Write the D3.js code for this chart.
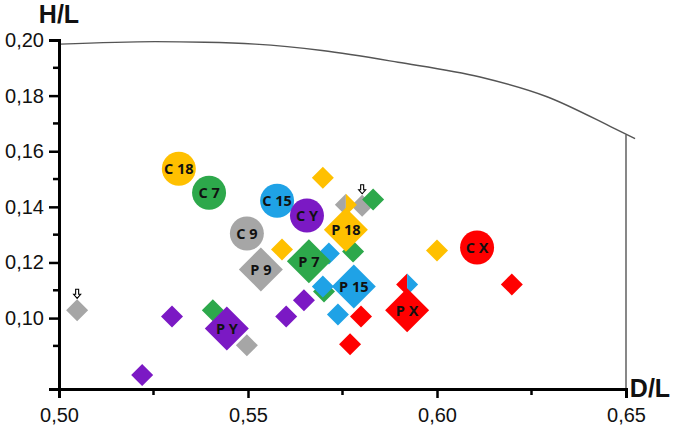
<!DOCTYPE html>
<html>
<head>
<meta charset="utf-8">
<script src="https://cdn.jsdelivr.net/npm/d3@7"></script>
<style>
  body { margin: 0; background: #fff; }
  svg { display: block; font-family: "Liberation Sans", Arial, sans-serif; }
  .tick-label { font-size: 20px; fill: #111; }
  .axis-title { font-size: 25px; font-weight: bold; fill: #111; }
  .mark-label { font-family: "Open Sans", sans-serif; font-size: 14.5px; font-weight: bold; fill: #111; }
</style>
</head>
<body>
<div id="chart"></div>
<script>
// 1: DATA
const colors = {
  yellow: "#FFC000", green: "#2DA84B", blue: "#1FA2E6",
  purple: "#7B19C4", gray: "#A6A6A6", red: "#FF0000"
};

// small diamonds [D/L, H/L, colour]
const smallPoints = [
  [0.5698, 0.1505, "yellow"], [0.5590, 0.1247, "yellow"], [0.6000, 0.1243, "yellow"],
  [0.5802, 0.1404, "gray"], [0.5048, 0.1028, "gray"], [0.5497, 0.0902, "gray"],
  [0.5831, 0.1426, "green"], [0.5778, 0.1239, "green"], [0.5407, 0.1028, "green"], [0.5701, 0.1096, "green"],
  [0.5714, 0.1232, "blue"], [0.5698, 0.1114, "blue"], [0.5738, 0.1013, "blue"],
  [0.5799, 0.1006, "red"], [0.5770, 0.0906, "red"], [0.6198, 0.1121, "red"],
  [0.5648, 0.1064, "purple"], [0.5601, 0.1006, "purple"], [0.5299, 0.1006, "purple"], [0.5220, 0.0795, "purple"]
];

// two-coloured small diamonds [D/L, H/L, left colour, right colour]
const splitPoints = [
  [0.5759, 0.1408, "gray", "yellow"],
  [0.5921, 0.1121, "red", "blue"]
];

// points flagged with a small arrow
const arrowPoints = [[0.5802, 0.1404], [0.5048, 0.1028]];

// large labelled diamonds (P) and circles (C)
const pLabels = ["P 18", "P 9", "P 7", "P 15", "P X", "P Y"];
const pX = [0.5759, 0.5534, 0.5661, 0.5780, 0.5921, 0.5444];
const pY = [0.1318, 0.1175, 0.1204, 0.1114, 0.1028, 0.0963];
const pColor = ["yellow", "gray", "green", "blue", "red", "purple"];

const cLabels = ["C 18", "C 7", "C 15", "C 9", "C Y", "C X"];
const cX = [0.5317, 0.5397, 0.5577, 0.5497, 0.5656, 0.6106];
const cY = [0.1537, 0.1451, 0.1422, 0.1304, 0.1369, 0.1254];
const cColor = ["yellow", "green", "blue", "gray", "purple", "red"];

// boundary curve
const curveX = [0.5003, 0.5254, 0.5386, 0.5519, 0.5696, 0.5897, 0.6114, 0.6291, 0.6466, 0.6524];
const curveY = [0.1985, 0.1994, 0.1992, 0.1985, 0.1962, 0.1920, 0.1867, 0.1796, 0.1684, 0.1645];
const boundX = 0.65, boundTop = 0.1660;

const xTicks = [0.50, 0.55, 0.60, 0.65];
const xMinor = [0.525, 0.575, 0.625];
const yTicks = [0.10, 0.12, 0.14, 0.16, 0.18, 0.20];
const yMinor = [0.09, 0.11, 0.13, 0.15, 0.17, 0.19];

// 2: SVG + SCALES
const W = 675, H = 426;
const svg = d3.select("#chart").append("svg").attr("width", W).attr("height", H);

const x = d3.scaleLinear().domain([0.50, 0.65]).range([59, 626]);
const y = d3.scaleLinear().domain([0.0745, 0.20]).range([389, 40]);
const fmt = v => d3.format(".2f")(v).replace(".", ",");

// 3: CURVE + RIGHT BOUNDARY
const curve = d3.line().x(d => x(d[0])).y(d => y(d[1])).curve(d3.curveMonotoneX);
svg.append("path")
  .attr("d", curve(d3.zip(curveX, curveY)))
  .attr("fill", "none").attr("stroke", "#555").attr("stroke-width", 1.4);
svg.append("line")
  .attr("x1", x(boundX)).attr("x2", x(boundX))
  .attr("y1", y(boundTop)).attr("y2", y.range()[0])
  .attr("stroke", "#555").attr("stroke-width", 1.4);

// 4: AXES
const axisG = svg.append("g");
const xAxis = axisG.append("g").attr("transform", `translate(0,${y.range()[0]})`)
  .call(d3.axisBottom(x).tickValues(xTicks).tickSize(9).tickFormat(fmt));
const yAxis = axisG.append("g").attr("transform", `translate(${x.range()[0]},0)`)
  .call(d3.axisLeft(y).tickValues(yTicks).tickSize(10).tickFormat(fmt));

[xAxis, yAxis].forEach(g => {
  g.attr("font-size", null).attr("font-family", null);
  g.select(".domain").attr("stroke", "#000").attr("stroke-width", 3);
  g.selectAll(".tick line").attr("stroke", "#000").attr("stroke-width", 2.5);
  g.selectAll(".tick text").attr("class", "tick-label");
});
xAxis.selectAll(".tick text").attr("dy", null).attr("y", 33);
yAxis.selectAll(".tick text").attr("x", -15);

xAxis.selectAll(".minor").data(xMinor).enter().append("line")
  .attr("x1", d => x(d)).attr("x2", d => x(d)).attr("y1", 0).attr("y2", 6)
  .attr("stroke", "#000").attr("stroke-width", 2.5);
yAxis.selectAll(".minor").data(yMinor).enter().append("line")
  .attr("y1", d => y(d)).attr("y2", d => y(d)).attr("x1", 0).attr("x2", -6)
  .attr("stroke", "#000").attr("stroke-width", 2.5);

svg.append("text").attr("class", "axis-title")
  .attr("x", x.range()[0]).attr("y", 23).attr("text-anchor", "middle").text("H/L");
svg.append("text").attr("class", "axis-title")
  .attr("x", 650).attr("y", 397).attr("text-anchor", "middle").text("D/L");

// 5: MARKS
const smallSym = d3.symbol().type(d3.symbolSquare).size(242);
const bigSym = d3.symbol().type(d3.symbolSquare).size(968);

svg.append("g").selectAll("path").data(smallPoints).enter().append("path")
  .attr("d", smallSym())
  .attr("transform", d => `translate(${x(d[0])},${y(d[1])}) rotate(45)`)
  .attr("fill", d => colors[d[2]]);

// half diamonds for the two-coloured points
const hd = 11;
const split = svg.append("g").selectAll("g").data(splitPoints).enter().append("g")
  .attr("transform", d => `translate(${x(d[0])},${y(d[1])})`);
split.append("path").attr("d", `M0,${-hd}L${-hd},0L0,${hd}Z`).attr("fill", d => colors[d[2]]);
split.append("path").attr("d", `M0,${-hd}L${hd},0L0,${hd}Z`).attr("fill", d => colors[d[3]]);

// small outlined down arrows above flagged points
svg.append("g").selectAll("path").data(arrowPoints).enter().append("path")
  .attr("transform", d => `translate(${x(d[0])},${y(d[1]) - 16})`)
  .attr("d", "M-1.5,-5L1.5,-5L1.5,0L3.5,0L0,4L-3.5,0L-1.5,0Z")
  .attr("fill", "#fff").attr("stroke", "#000").attr("stroke-width", 1.1);

const pData = d3.range(pLabels.length).map(i => ({ label: pLabels[i], x: pX[i], y: pY[i], c: pColor[i] }));
const pG = svg.append("g").selectAll("g").data(pData).enter().append("g")
  .attr("transform", d => `translate(${x(d.x)},${y(d.y)})`);
pG.append("path").attr("d", bigSym()).attr("transform", "rotate(45)").attr("fill", d => colors[d.c]);
pG.append("text").attr("class", "mark-label").attr("text-anchor", "middle").attr("dy", "0.36em").text(d => d.label);

const cData = d3.range(cLabels.length).map(i => ({ label: cLabels[i], x: cX[i], y: cY[i], c: cColor[i] }));
const cG = svg.append("g").selectAll("g").data(cData).enter().append("g")
  .attr("transform", d => `translate(${x(d.x)},${y(d.y)})`);
cG.append("circle").attr("r", 17).attr("fill", d => colors[d.c]);
cG.append("text").attr("class", "mark-label").attr("text-anchor", "middle").attr("dy", "0.36em").text(d => d.label);
</script>
</body>
</html>
